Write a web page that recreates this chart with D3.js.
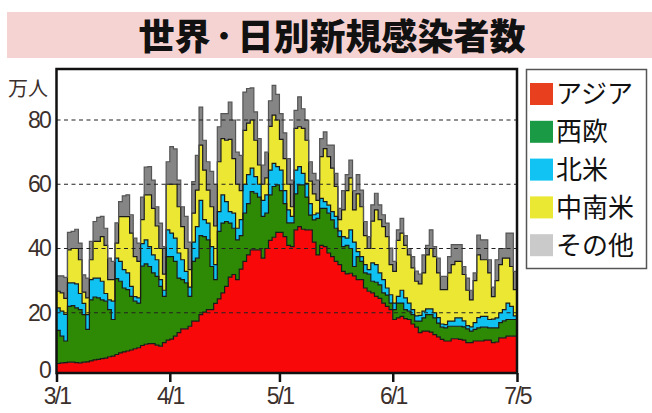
<!DOCTYPE html>
<html><head><meta charset="utf-8">
<script src="https://cdn.jsdelivr.net/npm/d3@7"></script>
<style>
html,body{margin:0;padding:0;background:#fff;}
svg{display:block;}
</style></head><body>
<svg id="chart" width="652" height="413"></svg>
<script>
const titleParts = ["世界","・","日別新規感染者数"];
const unitLabel = "万人";
const startDate = new Date(2021, 2, 1);
const endDate = new Date(2021, 6, 5);
const seriesKeys = ["asia","europe","northAmerica","latinAmerica","others"];
const seriesNames = ["アジア","西欧","北米","中南米","その他"];

// daily new cases, 10k people (万人), 3/1 .. 7/4
const asia = [4.2,4.4,4.5,4.6,4.6,4.5,4.4,4.6,4.7,5.0, 5.3,5.5,5.7,5.9,6.3,6.5,7.0,7.5,7.8,8.1, 8.4,8.8,9.1,9.8,10.2,10.4,10.4,9.9,9.6,10.7, 11.5,11.8,12.7,13.8,15.0,15.0,15.8,17.4,17.4,19.4, 20.2,21.0,21.0,22.9,24.3,26.2,28.2,31.1,31.9,30.3, 33.6,36.0,38.0,39.6,39.6,39.6,37.0,40.0,42.5,43.5, 45.0,45.0,43.7,41.0,40.6,45.8,46.8,46.0,45.8,45.8, 42.0,38.0,41.0,40.6,38.6,37.5,36.0,35.0,32.9,32.1, 32.3,31.5,30.3,30.3,27.7,26.7,26.2,25.1,24.5,23.0, 22.0,21.0,17.9,18.4,18.9,18.2,17.9,16.5,15.5,13.8, 14.3,14.3,14.0,13.2,12.5,11.7,11.2,11.2,11.9,11.9, 11.7,11.5,10.7,10.7,11.2,11.2,11.2,11.5,11.5,10.7, 10.9,12.2,12.2,12.7,12.7,12.7];
const europe = [10.3,8.3,6.7,17.4,17.6,17.0,16.6,14.8,10.1,19.0, 19.6,19.1,18.3,17.7,14.7,11.4,23.6,22.3,19.9,19.1, 16.7,14.8,13.9,24.7,25.0,24.0,22.0,21.4,18.6,14.4, 26.0,25.7,23.3,17.0,15.3,14.3,9.3,18.6,19.6,24.6, 23.5,21.7,13.4,7.4,21.0,21.7,20.2,16.8,14.4,12.4, 10.4,15.0,16.0,18.1,17.6,16.4,13.0,11.0,14.2,15.8, 14.8,13.0,10.3,7.0,7.4,11.2,13.0,13.8,10.2,4.6, 6.9,11.4,11.5,11.9,12.4,11.4,10.3,8.7,7.7,8.9, 7.7,2.9,7.2,5.7,4.7,5.3,3.6,4.4,4.2,3.2, 3.5,2.0,3.1,4.6,4.1,2.8,2.6,2.9,1.9,3.6, 4.1,5.1,5.4,5.2,4.3,3.8,4.1,4.6,3.9,3.9, 4.1,4.1,4.3,3.6,3.6,4.1,4.3,4.0,3.8,4.6, 4.4,4.7,5.3,5.2,5.2,5.2];
const northAmerica = [7.0,7.8,8.3,7.3,7.1,7.5,5.0,3.5,4.6,6.3, 5.9,6.2,5.8,2.4,3.0,5.7,6.4,6.2,5.7,5.2, 3.1,1.4,1.6,7.0,7.5,6.2,5.6,5.2,2.1,1.9, 8.3,7.3,7.2,7.8,6.2,3.6,2.9,6.0,9.8,11.0, 5.3,5.2,6.2,4.7,6.2,8.8,6.2,3.6,4.7,3.6, 5.0,9.0,9.0,7.3,5.2,4.0,5.0,5.7,7.7,7.2, 5.7,6.4,4.0,4.0,2.0,7.4,5.7,3.6,4.3,3.6, 1.6,1.6,3.1,2.1,2.5,2.6,3.7,1.8,3.1,2.2, 5.8,7.6,1.5,1.5,2.6,1.4,5.7,5.5,3.7,4.1, 2.2,2.6,2.0,2.1,4.0,3.6,2.5,1.6,1.6,1.8, 2.1,1.8,1.8,1.6,1.7,1.0,1.0,1.6,1.6,2.6, 2.6,1.9,1.0,1.3,2.1,3.2,3.4,3.4,2.6,2.7, 3.1,3.1,3.5,5.1,4.1,1.1];
const latinAmerica = [5.2,5.7,5.0,10.3,10.7,11.0,10.5,3.5,5.2,6.2, 11.4,11.4,13.9,15.0,6.3,6.7,4.7,13.9,16.5,17.5, 16.6,12.5,11.4,7.5,14.0,16.1,14.5,10.5,9.7,5.0, 14.2,15.2,16.8,14.4,10.3,7.1,5.4,9.0,11.4,17.2, 15.4,10.3,12.4,12.0,15.5,17.5,19.1,22.5,17.0,13.7, 9.0,16.8,16.0,15.0,11.3,6.0,5.0,5.3,13.6,15.0, 14.5,9.6,10.0,8.0,3.0,13.0,12.4,14.0,13.4,7.0, 6.5,4.0,13.0,16.5,15.1,13.5,9.3,3.5,8.3,14.8, 16.2,10.0,18.0,15.5,9.0,6.6,13.0,17.0,16.6,16.5, 16.0,9.4,9.9,17.4,17.8,16.4,15.0,13.0,10.8,9.8, 11.9,16.8,18.8,17.5,13.9,10.7,10.9,15.0,17.6,17.6, 17.6,14.4,11.0,8.4,13.1,19.5,17.6,17.6,14.5,7.0, 11.6,15.0,16.0,14.0,12.4,8.2];
const others = [4.8,5.3,6.5,5.4,5.3,6.0,5.2,5.4,6.2,5.7, 6.2,7.5,6.3,5.3,6.7,5.7,6.3,4.7,6.5,6.8, 5.7,5.7,5.7,7.0,8.6,8.8,8.8,6.0,7.9,8.6, 7.0,11.7,11.0,8.3,6.2,10.0,8.6,9.8,10.8,11.8, 9.3,8.8,11.0,13.0,10.9,7.8,8.3,11.6,12.0,10.0, 11.0,11.9,10.8,10.0,8.8,8.2,6.0,8.0,8.0,9.3, 8.0,8.0,8.0,8.0,8.3,5.6,9.3,6.1,6.3,6.0, 6.4,6.3,5.6,5.2,3.6,7.2,4.1,3.5,6.0,5.0, 5.5,6.0,6.0,5.2,4.4,3.7,5.1,5.2,4.6,3.7, 4.2,5.1,3.1,3.3,4.6,3.0,2.0,3.5,3.2,3.0, 5.6,3.0,5.8,3.1,4.6,4.1,4.1,5.1,6.2,5.2, 5.2,2.5,3.8,3.0,2.4,6.2,6.2,6.2,4.1,3.0, 6.5,5.0,3.0,7.8,10.4,5.7];

const xTickDates = [new Date(2021,2,1), new Date(2021,3,1), new Date(2021,4,1), new Date(2021,5,1), new Date(2021,6,5)];
const xTickLabels = ["3/1","4/1","5/1","6/1","7/5"];
const yTicks = [0,20,40,60,80];
const gridTicks = [20,40,60,80];

const areaColors = ["#f80808","#2e8a04","#0fc2f2","#ebe733","#858585"];
const lineColors = ["#1a1a1a","#1a1a1a","#1a1a1a","#1a1a1a","#555555"];
const legendColors = ["#e8401e","#1b9a45","#10c3f3","#ebe834","#cacaca"];

const svg = d3.select("#chart");
const plot = {left:56.5, right:517, top:69, bottom:373};

// title banner
svg.append("rect").attr("x",7).attr("y",12).attr("width",645).attr("height",46).attr("fill","#f6d3d3");
const tt = svg.append("text").attr("x",332).attr("y",50).attr("text-anchor","middle")
  .attr("font-family","'Noto Sans CJK JP'").attr("font-weight",900).attr("font-size",36)
  .attr("fill","#111");
tt.selectAll("tspan").data(titleParts).join("tspan")
  .attr("font-size",(d,i)=>i===1?27:36)
  .attr("dy",(d,i)=>i===1?-4:(i===2?4:0))
  .text(d=>d);

const days = d3.timeDay.range(startDate, endDate);
const src = {asia, europe, northAmerica, latinAmerica, others};
const rows = days.map((d,i)=>{ const r={date:d}; seriesKeys.forEach(k=>r[k]=src[k][i]); return r; });
const lastRow = Object.assign({}, rows[rows.length-1], {date:endDate});
const stackRows = rows.concat([lastRow]);
const stacked = d3.stack().keys(seriesKeys)(stackRows);

const x = d3.scaleTime().domain([startDate,endDate]).range([plot.left, plot.right]);
const y = d3.scaleLinear().domain([0,80]).range([377,120]);

svg.append("defs").append("clipPath").attr("id","clip").append("rect")
  .attr("x",plot.left).attr("y",plot.top).attr("width",plot.right-plot.left).attr("height",plot.bottom-plot.top);

const g = svg.append("g").attr("clip-path","url(#clip)");
const area = d3.area().x(d=>x(d.data.date)).y0(d=>y(d[0])).y1(d=>y(d[1])).curve(d3.curveStepAfter);
const line = d3.line().x(d=>x(d.data.date)).y(d=>y(d[1])).curve(d3.curveStepAfter);

g.selectAll("path.area").data(stacked).join("path").attr("class","area")
  .attr("d",area).attr("fill",(d,i)=>areaColors[i]);
g.selectAll("path.edge").data(stacked).join("path").attr("class","edge")
  .attr("d",line).attr("fill","none").attr("stroke",(d,i)=>lineColors[i]).attr("stroke-width",1.2);

// grid lines
g.selectAll("line.grid").data(gridTicks).join("line").attr("class","grid")
  .attr("x1",plot.left).attr("x2",plot.right).attr("y1",d=>y(d)).attr("y2",d=>y(d))
  .attr("stroke","#222").attr("stroke-width",1.2).attr("stroke-dasharray","4,3.5");

// frame
svg.append("rect").attr("x",plot.left).attr("y",plot.top).attr("width",plot.right-plot.left)
  .attr("height",plot.bottom-plot.top).attr("fill","none").attr("stroke","#111").attr("stroke-width",2.5);

const numFont = "'Liberation Sans', Arial, sans-serif";
// x axis
const xAxis = d3.axisBottom(x).tickValues(xTickDates).tickFormat((d,i)=>xTickLabels[i]).tickSize(9).tickPadding(6);
const xa = svg.append("g").attr("transform",`translate(0,${plot.bottom})`).call(xAxis);
xa.select(".domain").remove();
xa.selectAll("line").attr("stroke","#111").attr("stroke-width",2.5);
xa.selectAll("text").attr("font-family",numFont).attr("font-size",23).attr("fill","#3b302c")
  .attr("letter-spacing",-1.8);

// y axis (0 sits on the frame bottom)
const yLabelScale = d3.scaleLinear().domain([0,20,80]).range([plot.bottom-3, y(20), y(80)]);
const yAxis = d3.axisLeft(yLabelScale).tickValues(yTicks).tickSize(0).tickPadding(0);
const ya = svg.append("g").attr("transform","translate(50,0)").call(yAxis);
ya.select(".domain").remove();
ya.selectAll("text").attr("font-family",numFont).attr("font-size",23).attr("fill","#3b302c")
  .attr("letter-spacing",-1.8);

svg.append("text").attr("x",48).attr("y",96).attr("text-anchor","end")
  .attr("font-family","'Noto Sans CJK JP'").attr("font-size",20).attr("fill","#3b302c").text(unitLabel);

// legend
const lg = svg.append("g");
lg.append("rect").attr("x",526.5).attr("y",69.5).attr("width",120).attr("height",199)
  .attr("fill","#fff").attr("stroke","#555").attr("stroke-width",1.5);
const items = lg.selectAll("g.item").data(seriesNames).join("g").attr("class","item")
  .attr("transform",(d,i)=>`translate(530,${83+i*37.8})`);
items.append("rect").attr("width",23).attr("height",22).attr("fill",(d,i)=>legendColors[i]);
items.append("text").attr("x",26).attr("y",11).attr("dy","0.36em")
  .attr("font-family","'Noto Sans CJK JP'").attr("font-size",26).attr("fill","#111").text(d=>d);
</script>
</body></html>
